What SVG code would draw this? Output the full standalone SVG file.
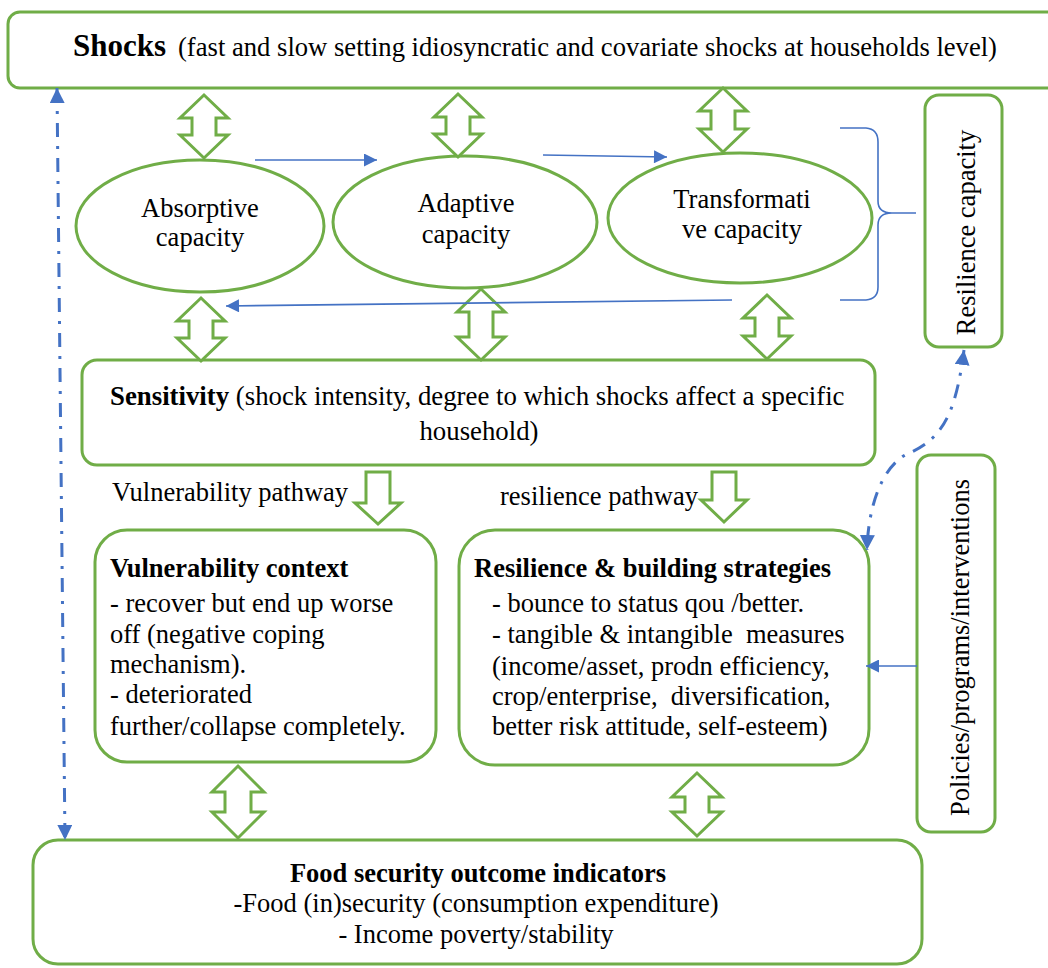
<svg xmlns="http://www.w3.org/2000/svg" width="1048" height="968" viewBox="0 0 1048 968">
<style>
.box{fill:#fff;stroke:#70AD47;stroke-width:3}
.blk{fill:#fff;stroke:#70AD47;stroke-width:3;stroke-linejoin:miter}
.t{font-family:"Liberation Serif","Times New Roman",serif;font-size:26.5px;fill:#000}
.b{font-weight:bold}
.c{text-anchor:middle}
.bl{fill:none;stroke:#4472C4;stroke-width:1.6}
.dd{fill:none;stroke:#4472C4;stroke-width:3;stroke-dasharray:14 9 3 9}
</style>
<defs>
<marker id="ah" viewBox="0 0 10 10" refX="10" refY="5" markerWidth="15" markerHeight="13" markerUnits="userSpaceOnUse" orient="auto-start-reverse">
<path d="M0,0 L10,5 L0,10 Z" fill="#4472C4"/>
</marker>
<marker id="ah2" viewBox="0 0 10 10" refX="10" refY="5" markerWidth="15" markerHeight="15" markerUnits="userSpaceOnUse" orient="auto-start-reverse">
<path d="M0,0 L10,5 L0,10 Z" fill="#4472C4"/>
</marker>
</defs>
<rect width="1048" height="968" fill="#fff"/>

<g id="shocks">
<rect class="box" x="8" y="12" width="1052" height="76" rx="12"/>
<text class="t b" x="73" y="56" style="font-size:31px">Shocks</text>
<text class="t" x="178" y="56" textLength="819" lengthAdjust="spacingAndGlyphs">(fast and slow setting idiosyncratic and covariate shocks at households level)</text>
</g>

<g id="absorptive">
<ellipse class="box" cx="200" cy="226" rx="124" ry="66"/>
<text class="t c" x="200" y="217">Absorptive</text>
<text class="t c" x="200" y="246">capacity</text>
</g>

<g id="adaptive">
<ellipse class="box" cx="465" cy="222" rx="132" ry="66"/>
<text class="t c" x="466" y="212">Adaptive</text>
<text class="t c" x="466" y="243">capacity</text>
</g>

<g id="transformative">
<ellipse class="box" cx="740" cy="218" rx="132" ry="65"/>
<text class="t c" x="742" y="208">Transformati</text>
<text class="t c" x="742" y="238">ve capacity</text>
</g>

<g id="resilience-capacity">
<rect class="box" x="925" y="95" width="77" height="252" rx="14"/>
<text class="t c" transform="translate(975,232.5) rotate(-90)">Resilience capacity</text>
</g>

<g id="sensitivity">
<rect class="box" x="82" y="360" width="793" height="105" rx="15"/>
<text class="t" x="110" y="405" style="font-size:26.8px"><tspan class="b">Sensitivity</tspan> (shock intensity, degree to which shocks affect a specific</text>
<text class="t c" x="479" y="440" style="font-size:26.8px">household)</text>
</g>

<g id="vulnerability-context">
<rect class="box" x="95" y="530" width="341" height="232" rx="32"/>
<text class="t b" x="110" y="577">Vulnerability context</text>
<text class="t" x="110" y="612">- recover but end up worse</text>
<text class="t" x="110" y="643">off (negative coping</text>
<text class="t" x="110" y="673">mechanism).</text>
<text class="t" x="110" y="703">- deteriorated</text>
<text class="t" x="110" y="735">further/collapse completely.</text>
</g>

<g id="resilience-strategies">
<rect class="box" x="459" y="530" width="410" height="235" rx="36"/>
<text class="t b" x="474" y="577">Resilience &amp; building strategies</text>
<text class="t" x="492" y="612">- bounce to status qou /better.</text>
<text class="t" x="492" y="643" xml:space="preserve">- tangible &amp; intangible  measures</text>
<text class="t" x="492" y="675">(income/asset, prodn efficiency,</text>
<text class="t" x="492" y="705" xml:space="preserve">crop/enterprise,  diversification,</text>
<text class="t" x="492" y="735">better risk attitude, self-esteem)</text>
</g>

<g id="policies">
<rect class="box" x="917" y="455" width="78" height="377" rx="14"/>
<text class="t c" transform="translate(969,647.5) rotate(-90)">Policies/programs/interventions</text>
</g>

<g id="food-security">
<rect class="box" x="33" y="840" width="889" height="124" rx="25"/>
<text class="t b c" x="478" y="882">Food security outcome indicators</text>
<text class="t c" x="476" y="912">-Food (in)security (consumption expenditure)</text>
<text class="t c" x="476" y="943">- Income poverty/stability</text>
</g>

<g id="labels">
<text class="t" x="112" y="501">Vulnerability pathway</text>
<text class="t" x="500" y="505">resilience pathway</text>
</g>

<g id="connectors">
<path class="blk" d="M204,95 L228,118 L216,118 L216,135 L228,135 L204,158 L180,135 L192,135 L192,118 L180,118 Z"/>
<path class="blk" d="M458,94 L482,117 L470,117 L470,134 L482,134 L458,157 L434,134 L446,134 L446,117 L434,117 Z"/>
<path class="blk" d="M723,88 L747,111 L735,111 L735,129 L747,129 L723,152 L699,129 L711,129 L711,111 L699,111 Z"/>
<path class="blk" d="M201,298 L225,321 L213,321 L213,338 L225,338 L201,361 L177,338 L189,338 L189,321 L177,321 Z"/>
<path class="blk" d="M481,289 L505,312 L493,312 L493,337 L505,337 L481,360 L457,337 L469,337 L469,312 L457,312 Z"/>
<path class="blk" d="M767,295 L791,318 L779,318 L779,336 L791,336 L767,359 L743,336 L755,336 L755,318 L743,318 Z"/>
<path class="blk" d="M238,766 L264,792 L251,792 L251,812 L264,812 L238,838 L212,812 L225,812 L225,792 L212,792 Z"/>
<path class="blk" d="M697,773 L722,797 L709,797 L709,812 L722,812 L697,836 L672,812 L685,812 L685,797 L672,797 Z"/>
<path class="blk" d="M366,472 L390,472 L390,503 L401,503 L378,524 L355,503 L366,503 Z"/>
<path class="blk" d="M712,472 L736,472 L736,500 L747,500 L724,522 L701,500 L712,500 Z"/>

<line class="bl" x1="255" y1="160" x2="377" y2="160" marker-end="url(#ah)"/>
<line class="bl" x1="543" y1="155" x2="667" y2="157" marker-end="url(#ah)"/>
<line class="bl" x1="732" y1="300" x2="226" y2="306" marker-end="url(#ah)"/>
<line class="bl" x1="917" y1="666" x2="866" y2="666" marker-end="url(#ah)"/>

<path class="bl" d="M840,128 L866,128 Q878,129 878,142 L878,201 Q878,213 892,213 L916,213 M892,213 Q878,213 878,225 L878,287 Q878,299 866,300 L840,300"/>

<path class="dd" d="M57,88 L65,840" marker-start="url(#ah2)" marker-end="url(#ah2)"/>
<path class="dd" d="M964,350 C955,420 940,440 905,455 C880,470 868,510 867,550" marker-start="url(#ah2)" marker-end="url(#ah2)"/>
</g>
</svg>
